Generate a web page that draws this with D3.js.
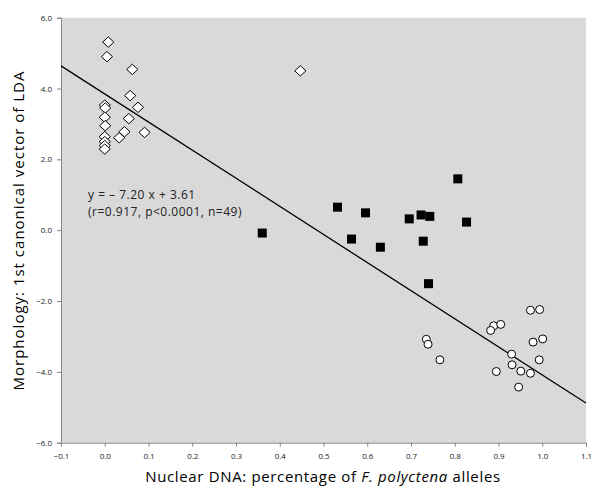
<!DOCTYPE html>
<html>
<head>
<meta charset="utf-8">
<script src="https://cdn.jsdelivr.net/npm/d3@7"></script>
<style>
  html, body { margin: 0; padding: 0; background: #fff; }
  svg { display: block; }
  text { font-family: "Open Sans", "Liberation Sans", sans-serif; }
</style>
</head>
<body>
<svg id="chart" width="596" height="488"></svg>
<script>
// ---- data ----
const diamondX = [0.008, 0.005, 0.063, 0.058, 0.076, 0.000, 0.001, 0.000, 0.055, 0.001, 0.045, 0.033, 0.091, 0.000, 0.000, 0.000, 0.000, 0.447];
const diamondY = [5.31, 4.90, 4.54, 3.80, 3.47, 3.53, 3.45, 3.19, 3.15, 2.95, 2.78, 2.61, 2.76, 2.64, 2.50, 2.39, 2.29, 4.50];

const squareX = [0.532, 0.596, 0.807, 0.696, 0.723, 0.743, 0.827, 0.564, 0.630, 0.728, 0.740, 0.360];
const squareY = [0.65, 0.49, 1.45, 0.32, 0.43, 0.39, 0.23, -0.25, -0.48, -0.31, -1.51, -0.08];

const circleX = [0.973, 0.994, 0.889, 0.905, 0.882, 0.735, 0.739, 0.979, 1.001, 0.766, 0.930, 0.993, 0.931, 0.895, 0.951, 0.973, 0.946];
const circleY = [-2.26, -2.24, -2.70, -2.66, -2.83, -3.08, -3.22, -3.16, -3.07, -3.66, -3.50, -3.66, -3.80, -3.99, -3.98, -4.04, -4.43];

const trendX = [-0.1, 1.1];
const trendY = [4.64, -4.88];

const xTicks = [-0.1, 0.0, 0.1, 0.2, 0.3, 0.4, 0.5, 0.6, 0.7, 0.8, 0.9, 1.0, 1.1];
const yTicks = [-6, -4, -2, 0, 2, 4, 6];

const equationLines = ["y = \u2013 7.20 x + 3.61", "(r=0.917, p<0.0001, n=49)"];
const yTitle = "Morphology: 1st canonical vector of LDA";

// ---- layout ----
const svg = d3.select("#chart");
const L = 61, R = 586, T = 17.7, B = 442.7;
const x = d3.scaleLinear().domain([-0.1, 1.1]).range([L, R]);
const y = d3.scaleLinear().domain([-6, 6]).range([B, T]);

svg.append("rect").attr("x", L).attr("y", T).attr("width", R - L).attr("height", B - T).attr("fill", "#d9d9d9");

const axisColor = "#868686";
const gx = svg.append("g").attr("transform", `translate(0,${B})`)
  .call(d3.axisBottom(x).tickValues(xTicks).tickFormat(d3.format(".1f")).tickSizeOuter(0).tickSize(4).tickPadding(7));
const gy = svg.append("g").attr("transform", `translate(${L},0)`)
  .call(d3.axisLeft(y).tickValues(yTicks).tickFormat(d3.format(".1f")).tickSizeOuter(0).tickSize(4).tickPadding(5));
[gx, gy].forEach(g => {
  g.select(".domain").attr("stroke", axisColor).attr("stroke-width", 1);
  g.selectAll(".tick line").attr("stroke", axisColor);
  g.selectAll(".tick text").attr("font-size", 8).attr("fill", "#222")
    .attr("font-family", "'Open Sans', sans-serif");
});

// trend line
svg.append("line")
  .attr("x1", x(trendX[0])).attr("y1", y(trendY[0]))
  .attr("x2", x(trendX[1])).attr("y2", y(trendY[1]))
  .attr("stroke", "#000").attr("stroke-width", 1.3);

// diamonds
svg.append("g").selectAll("path").data(diamondX.map((d, i) => [d, diamondY[i]])).join("path")
  .attr("d", "M0,-5.2L5.6,0L0,5.2L-5.6,0Z")
  .attr("transform", d => `translate(${x(d[0])},${y(d[1])})`)
  .attr("fill", "#fff").attr("stroke", "#000").attr("stroke-width", 1);

// squares
svg.append("g").selectAll("rect").data(squareX.map((d, i) => [d, squareY[i]])).join("rect")
  .attr("x", d => x(d[0]) - 4.5).attr("y", d => y(d[1]) - 4.5)
  .attr("width", 9).attr("height", 9)
  .attr("fill", "#000");

// circles
svg.append("g").selectAll("circle").data(circleX.map((d, i) => [d, circleY[i]])).join("circle")
  .attr("cx", d => x(d[0])).attr("cy", d => y(d[1])).attr("r", 4)
  .attr("fill", "#fff").attr("stroke", "#000").attr("stroke-width", 1);

// equation text
svg.append("g").selectAll("text").data(equationLines).join("text")
  .attr("x", 88).attr("y", (d, i) => 199 + i * 17)
  .attr("font-size", 12).attr("letter-spacing", 0.5).attr("fill", "#222")
  .text(d => d);

// axis titles
const xt = svg.append("text").attr("x", (L + R) / 2 - 0.5).attr("y", 482)
  .attr("text-anchor", "middle").attr("font-size", 15).attr("letter-spacing", 0.65).attr("fill", "#000");
xt.append("tspan").text("Nuclear DNA: percentage of ");
xt.append("tspan").attr("font-style", "italic").text("F. polyctena");
xt.append("tspan").text(" alleles");

svg.append("text")
  .attr("transform", `translate(24,${(66 + 395) / 2}) rotate(-90)`)
  .attr("text-anchor", "middle").attr("font-size", 15).attr("letter-spacing", 1.0).attr("fill", "#000")
  .text(yTitle);
</script>
</body>
</html>
